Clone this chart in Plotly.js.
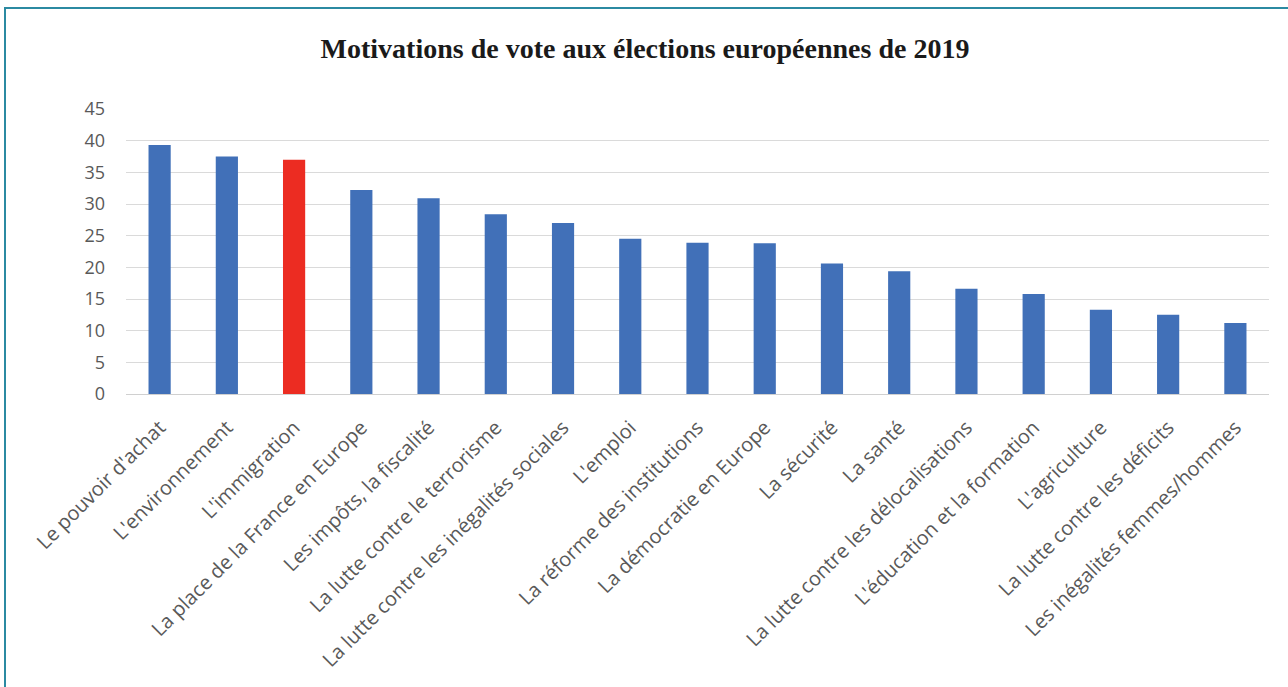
<!DOCTYPE html>
<html>
<head>
<meta charset="utf-8">
<script src="https://cdn.plot.ly/plotly-3.0.1.min.js"></script>
<style>
  html, body { margin: 0; padding: 0; background: #fff; }
  #wrap { position: relative; width: 1288px; height: 687px; overflow: hidden; }
  #chart { position: absolute; left: 0; top: 0; width: 1288px; height: 687px; }
  #frame { position: absolute; left: 4px; top: 7px; right: -10px; bottom: -10px;
           border-top: 2px solid #2b8aa2; border-left: 2px solid #2b8aa2; pointer-events: none; }
</style>
</head>
<body>
<div id="wrap">
  <div id="chart"></div>
  <div id="frame"></div>
</div>
<script>
const categories = [
  "Le pouvoir d'achat",
  "L'environnement",
  "L'immigration",
  "La place de la France en Europe",
  "Les impôts, la fiscalité",
  "La lutte contre le terrorisme",
  "La lutte contre les inégalités sociales",
  "L'emploi",
  "La réforme des institutions",
  "La démocratie en Europe",
  "La sécurité",
  "La santé",
  "La lutte contre les délocalisations",
  "L'éducation et la formation",
  "L'agriculture",
  "La lutte contre les déficits",
  "Les inégalités femmes/hommes"
];
const values = [39.3, 37.5, 37.0, 32.2, 30.9, 28.4, 27.0, 24.5, 23.9, 23.8, 20.6, 19.4, 16.6, 15.8, 13.3, 12.5, 11.2];
const highlighted = "L'immigration";
const yTicks = [0, 5, 10, 15, 20, 25, 30, 35, 40, 45];
const chartTitle = "Motivations de vote aux élections européennes de 2019";

const blue = "#4170b8";
const red = "#ec2c22";
const colors = categories.map(c => c === highlighted ? red : blue);

const trace = {
  type: "bar",
  x: categories,
  y: values,
  marker: { color: colors, line: { width: 0 } },
  hoverinfo: "x+y"
};

const layout = {
  width: 1288,
  height: 687,
  paper_bgcolor: "rgba(0,0,0,0)",
  plot_bgcolor: "rgba(0,0,0,0)",
  margin: { l: 126, r: 19, t: 109, b: 293 },
  bargap: 0.67,
  showlegend: false,
  title: {
    text: "<b>" + chartTitle + "</b>",
    font: { family: "Liberation Serif, Times New Roman, serif", size: 28, color: "#1a1a1a" },
    x: 645 / 1288, xref: "container", xanchor: "center",
    y: 1 - 48 / 687, yref: "container", yanchor: "middle"
  },
  xaxis: {
    type: "category",
    tickangle: -45,
    tickfont: { family: "Open Sans, Lato, sans-serif", size: 20, color: "#595959" },
    showgrid: false,
    showline: false,
    zeroline: false,
    ticks: "",
    ticklabelstandoff: 17,
    automargin: false
  },
  yaxis: {
    range: [0, 45],
    tickvals: yTicks,
    ticktext: yTicks.map(String),
    tickfont: { family: "Open Sans, Lato, sans-serif", size: 18, color: "#595959" },
    showgrid: true,
    gridcolor: "#dadada",
    gridwidth: 1,
    zeroline: true,
    zerolinecolor: "#d0d0d0",
    zerolinewidth: 1,
    showline: false,
    ticks: "",
    ticklabelstandoff: 20,
    automargin: false
  }
};

Plotly.newPlot("chart", [trace], layout, { displayModeBar: false, staticPlot: true });
</script>
</body>
</html>
